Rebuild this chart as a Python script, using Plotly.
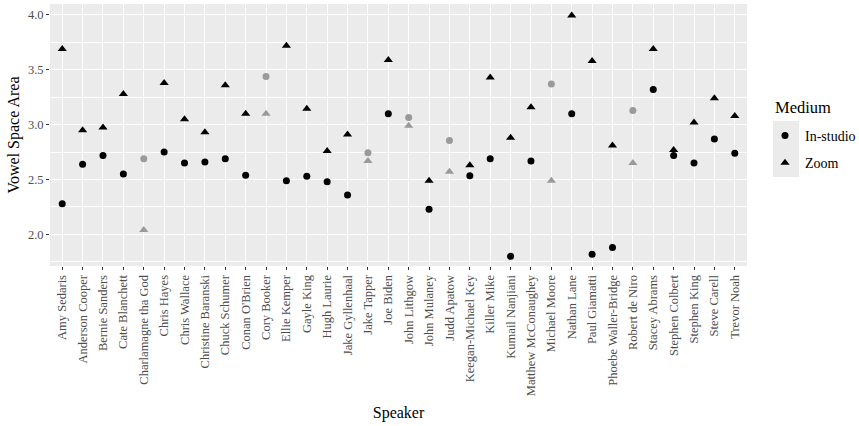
import plotly.graph_objects as go

speakers = ["Amy Sedaris", "Anderson Cooper", "Bernie Sanders", "Cate Blanchett",
            "Charlamagne tha God", "Chris Hayes", "Chris Wallace", "Christine Baranski",
            "Chuck Schumer", "Conan O'Brien", "Cory Booker", "Ellie Kemper", "Gayle King",
            "Hugh Laurie", "Jake Gyllenhaal", "Jake Tapper", "Joe Biden", "John Lithgow",
            "John Mulaney", "Judd Apatow", "Keegan-Michael Key", "Killer Mike",
            "Kumail Nanjiani", "Matthew McConaughey", "Michael Moore", "Nathan Lane",
            "Paul Giamatti", "Phoebe Waller-Bridge", "Robert de Niro", "Stacey Abrams",
            "Stephen Colbert", "Stephen King", "Steve Carell", "Trevor Noah"]

in_studio = [2.28, 2.64, 2.72, 2.55, 2.69, 2.75, 2.65, 2.66, 2.69, 2.54, 3.44, 2.49,
             2.53, 2.48, 2.36, 2.745, 3.10, 3.065, 2.23, 2.855, 2.535, 2.69, 1.80, 2.67,
             3.37, 3.10, 1.82, 1.88, 3.13, 3.32, 2.72, 2.65, 2.87, 2.74]
zoom = [3.69, 2.95, 2.975, 3.28, 2.04, 3.38, 3.05, 2.93, 3.36, 3.10, 3.10, 3.72,
        3.145, 2.76, 2.91, 2.67, 3.59, 2.99, 2.49, 2.57, 2.63, 3.43, 2.88, 3.16,
        2.49, 3.995, 3.58, 2.81, 2.65, 3.69, 2.77, 3.02, 3.24, 3.08]
# speakers drawn in light grey in the original
grey_speakers = ["Charlamagne tha God", "Cory Booker", "Jake Tapper", "John Lithgow",
                 "Judd Apatow", "Michael Moore", "Robert de Niro"]

colors = ["#9a9a9a" if s in grey_speakers else "#000000" for s in speakers]

font_family = "Liberation Serif"
W, H = 859, 426

fig = go.Figure()
fig.add_trace(go.Scatter(x=speakers, y=in_studio, mode="markers", name="In-studio",
                         legendgroup="a",
                         marker=dict(symbol="circle", size=7, color=colors)))
fig.add_trace(go.Scatter(x=speakers, y=zoom, mode="markers", name="Zoom",
                         legendgroup="b",
                         marker=dict(symbol="triangle-up", size=8, color=colors)))

# grey legend key background (ggplot style)
fig.add_shape(type="rect", xref="paper", yref="paper",
              x0=(773 - 50) / 697, x1=(799 - 50) / 697,
              y0=(266 - 177) / 262, y1=(266 - 121) / 262,
              fillcolor="#EBEBEB", line=dict(width=0), layer="below")

# legend title
fig.add_annotation(text="Medium", xref="paper", yref="paper",
                   x=(773 - 50) / 697, y=(266 - 107) / 262,
                   xanchor="left", yanchor="middle", showarrow=False,
                   font=dict(size=16.5, family=font_family, color="#000000"))

fig.update_layout(
    width=W, height=H,
    margin=dict(l=50, r=112, t=4, b=160),
    paper_bgcolor="white", plot_bgcolor="#EBEBEB",
    font=dict(family=font_family, color="#000000", size=14),
    showlegend=True,
    legend=dict(font=dict(size=14, family=font_family),
                xref="container", yref="container",
                x=765 / W, xanchor="left", y=1 - 120 / H, yanchor="top",
                bgcolor="rgba(0,0,0,0)", itemsizing="trace",
                traceorder="grouped", tracegroupgap=6),
    xaxis=dict(type="category", categoryorder="array", categoryarray=speakers,
               range=[-0.6, len(speakers) - 0.4], automargin=False,
               showgrid=True, gridcolor="white", gridwidth=1.1,
               tickangle=-90, tickfont=dict(size=12.5, color="#4d4d4d", family=font_family),
               ticks="outside", ticklen=3, tickcolor="#333333",
               title=dict(text="Speaker", font=dict(size=16, family=font_family), standoff=11),
               zeroline=False, showline=False),
    yaxis=dict(range=[1.712, 4.10], dtick=0.5, tick0=0, tickformat=".1f", automargin=False,
               showgrid=True, gridcolor="white", gridwidth=1.1,
               minor=dict(dtick=0.25, tick0=0, showgrid=True, gridcolor="white", gridwidth=0.5),
               tickfont=dict(size=12.5, color="#4d4d4d", family=font_family),
               ticks="outside", ticklen=3, tickcolor="#333333",
               title=dict(text="Vowel Space Area", font=dict(size=16, family=font_family), standoff=4),
               zeroline=False, showline=False),
)

fig.write_html("out.html", config={"displayModeBar": False},
               post_script="document.body.style.margin='0';document.body.style.padding='0';")
